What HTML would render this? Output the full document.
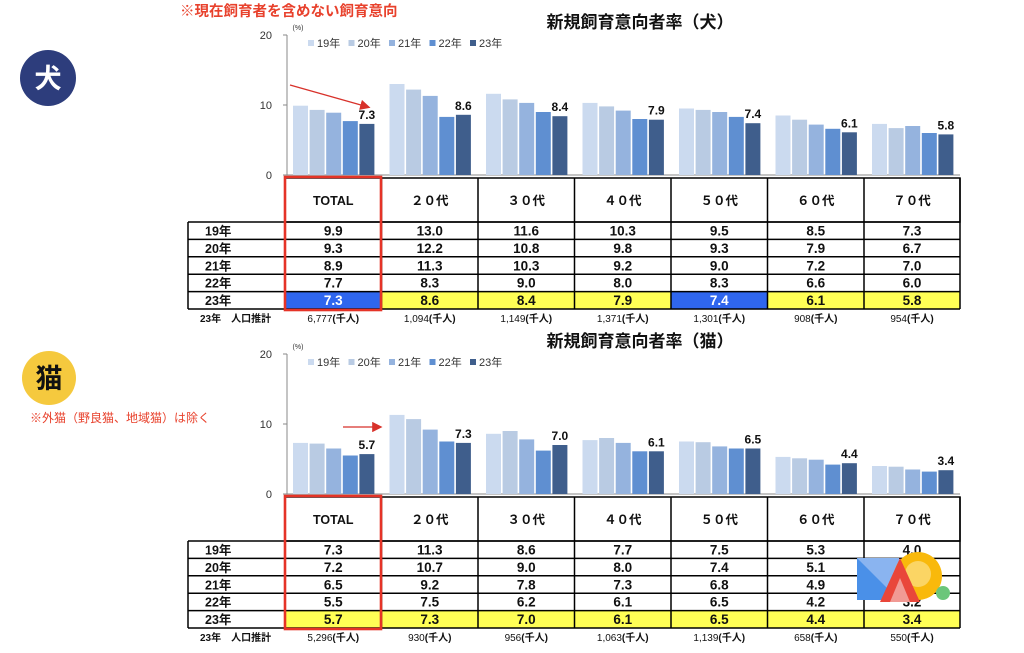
<!DOCTYPE html>
<html><head><meta charset="utf-8">
<style>
body{margin:0;background:#fff;}
svg{display:block;font-family:"Liberation Sans","Noto Sans CJK JP",sans-serif;}
</style></head>
<body>
<svg id="s" width="1024" height="653" viewBox="0 0 1024 653" xmlns="http://www.w3.org/2000/svg"></svg>
<script>
const S=document.getElementById('s');
let h='';
const cols=[285,381.5,478,574.5,671,767.5,864,960];
const colors=['#cbdaef','#b9cbe3','#95b3de','#5f8fd1','#3f5e8c'];
const heads=['TOTAL','２０代','３０代','４０代','５０代','６０代','７０代'];
const yrs=['19年','20年','21年','22年','23年'];
function section(o){
  const y0=o.y0, sc=7;
  h+=`<line x1="287" y1="${y0-140}" x2="287" y2="${y0}" stroke="#888" stroke-width="1"/>`;
  [0,10,20].forEach(v=>{const y=y0-v*sc;
    h+=`<line x1="283" y1="${y}" x2="287" y2="${y}" stroke="#888"/>`;
    h+=`<text x="272" y="${y+4}" font-size="11" text-anchor="end" fill="#333">${v}</text>`;});
  h+=`<text x="298" y="${y0-145}" font-size="7" text-anchor="middle" fill="#333">(%)</text>`;
  h+=`<line x1="287" y1="${y0}" x2="960" y2="${y0}" stroke="#888"/>`;
  yrs.forEach((t,i)=>{const x=308+i*40.5;
    h+=`<rect x="${x}" y="${y0-135}" width="6" height="6" fill="${colors[i]}"/>`;
    h+=`<text x="${x+9}" y="${y0-128}" font-size="11" fill="#333">${t}</text>`;});
  h+=`<text x="640" y="${y0-147}" font-size="17" font-weight="bold" text-anchor="middle" fill="#111">${o.title}</text>`;
  o.data.forEach((d,g)=>{const gx=cols[g]+8;
    d.forEach((v,i)=>{const x=gx+i*16.6,bh=v*sc;
      h+=`<rect x="${x}" y="${y0-bh}" width="15" height="${bh}" fill="${colors[i]}"/>`;});
    h+=`<text x="${gx+4*16.6+7.5}" y="${y0-d[4]*sc-5}" font-size="12" font-weight="bold" text-anchor="middle" fill="#111">${d[4].toFixed(1)}</text>`;
  });
  const ht=y0+3, hb=ht+44, rh=17.4;
  h+=`<rect x="285" y="${ht}" width="675" height="${hb-ht}" fill="#fff" stroke="#000" stroke-width="1.5"/>`;
  heads.forEach((t,c)=>{
    h+=`<text x="${(cols[c]+cols[c+1])/2}" y="${ht+27}" font-size="12.5" font-weight="bold" text-anchor="middle" fill="#111">${t}</text>`;});
  for(let r=0;r<5;r++){const y=hb+r*rh;
    if(r==4){for(let c=0;c<7;c++){const blue=o.blue.includes(c);
      h+=`<rect x="${cols[c]}" y="${y}" width="${cols[c+1]-cols[c]}" height="${rh}" fill="${blue?'#2f66ee':'#ffff55'}"/>`;}}
    h+=`<text x="205" y="${y+13.5}" font-size="12.5" font-weight="bold" fill="#111">${yrs[r]}</text>`;
    for(let c=0;c<7;c++){const blue=r==4&&o.blue.includes(c);
      h+=`<text x="${(cols[c]+cols[c+1])/2}" y="${y+13.5}" font-size="13.5" font-weight="bold" text-anchor="middle" fill="${blue?'#fff':'#111'}">${o.data[c][r].toFixed(1)}</text>`;}
  }
  const tb=hb+5*rh;
  for(let r=0;r<=5;r++){const y=hb+r*rh;h+=`<line x1="188" y1="${y}" x2="960" y2="${y}" stroke="#000" stroke-width="1.5"/>`;}
  h+=`<line x1="188" y1="${hb}" x2="188" y2="${tb}" stroke="#000" stroke-width="1.5"/>`;
  cols.forEach((x,i)=>{h+=`<line x1="${x}" y1="${ht}" x2="${x}" y2="${tb}" stroke="#000" stroke-width="1.5"/>`;});
  h+=`<rect x="285" y="${ht-1}" width="96" height="${tb-ht+2}" fill="none" stroke="#e53327" stroke-width="2.6"/>`;
  h+=`<text x="200" y="${tb+13}" font-size="10" font-weight="bold" fill="#111">23年　人口推計</text>`;
  o.pop.forEach((p,c)=>{h+=`<text x="${(cols[c]+cols[c+1])/2}" y="${tb+13}" font-size="10" text-anchor="middle" fill="#111">${p}<tspan font-weight="bold">(千人)</tspan></text>`;});
}
section({y0:175,title:'新規飼育意向者率（犬）',blue:[0,4],
 data:[[9.9,9.3,8.9,7.7,7.3],[13.0,12.2,11.3,8.3,8.6],[11.6,10.8,10.3,9.0,8.4],[10.3,9.8,9.2,8.0,7.9],[9.5,9.3,9.0,8.3,7.4],[8.5,7.9,7.2,6.6,6.1],[7.3,6.7,7.0,6.0,5.8]],
 pop:['6,777','1,094','1,149','1,371','1,301','908','954']});
section({y0:494,title:'新規飼育意向者率（猫）',blue:[],
 data:[[7.3,7.2,6.5,5.5,5.7],[11.3,10.7,9.2,7.5,7.3],[8.6,9.0,7.8,6.2,7.0],[7.7,8.0,7.3,6.1,6.1],[7.5,7.4,6.8,6.5,6.5],[5.3,5.1,4.9,4.2,4.4],[4.0,3.9,3.5,3.2,3.4]],
 pop:['5,296','930','956','1,063','1,139','658','550']});
h+=`<text x="180" y="16" font-size="14.5" font-weight="bold" fill="#e8412c">※現在飼育者を含めない飼育意向</text>`;
h+=`<circle cx="48" cy="78" r="28" fill="#2d3d7c"/><text x="48" y="88" font-size="27" font-weight="bold" text-anchor="middle" fill="#fff">犬</text>`;
h+=`<circle cx="49" cy="378" r="27" fill="#f5c93e"/><text x="49" y="388" font-size="27" font-weight="bold" text-anchor="middle" fill="#111">猫</text>`;
h+=`<text x="30" y="422" font-size="12" fill="#e8412c">※外猫（野良猫、地域猫）は除く</text>`;
h+=`<defs><marker id="a" markerWidth="8" markerHeight="8" refX="6" refY="4" orient="auto"><path d="M0,0L8,4L0,8z" fill="#d8312a"/></marker></defs>`;
h+=`<line x1="290" y1="85" x2="368" y2="107" stroke="#d8312a" stroke-width="1.3" marker-end="url(#a)"/>`;
h+=`<line x1="343" y1="427" x2="380" y2="427" stroke="#d8312a" stroke-width="1.3" marker-end="url(#a)"/>`;
h+=`<rect x="857" y="558" width="42" height="42" fill="#4a90e8"/><path d="M857,558L899,558L899,600z" fill="#8ab4f0"/>`;
h+=`<circle cx="918" cy="576" r="24" fill="#f9b90b"/><circle cx="918" cy="574" r="13" fill="#fbd564"/>`;
h+=`<path d="M880,602L900,558L920,602z" fill="#e9463a"/><path d="M890,602L900,578L910,602z" fill="#f19a94"/>`;
h+=`<circle cx="943" cy="593" r="7" fill="#6bc67a"/>`;
S.innerHTML=h;
</script>
</body></html>
